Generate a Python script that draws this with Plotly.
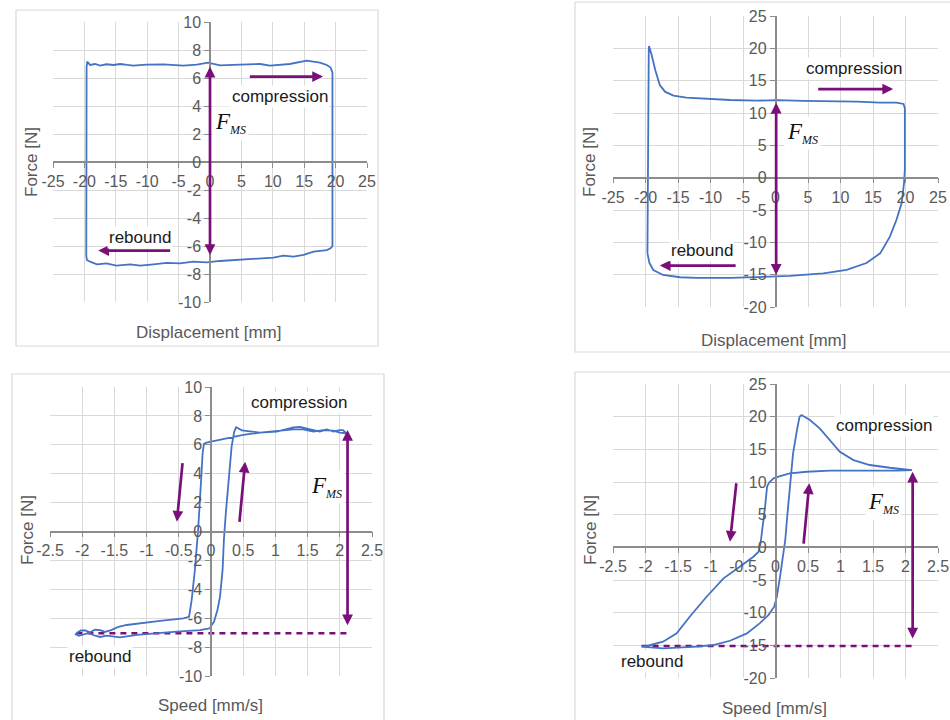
import plotly.graph_objects as go

W, H = 950, 720

# ---------------- data ----------------
# Panel 1: force vs displacement (low speed)
p1_disp = [-19.65, -19.54, -19.1, -18.3, -17.5, -16.5, -15.4, -14.3, -13.2, -12.2, -10.1, -7.4,
           -4.25, -2.1, -0.3, 1.6, 4.8, 8.0, 9.55, 12.7, 15.4, 17.5, 18.6, 19.2, 19.5,
           19.5, 19.2, 18.6, 16.5, 14.9, 13.3, 11.7, 10.1, 8.0, 5.8, 3.7, 1.6, -0.5, -2.65,
           -4.8, -6.9, -9.0, -11.1, -12.7, -14.9, -16.5, -18.0, -19.1, -19.6, -19.7, -19.65]
p1_force = [6.8, 7.17, 6.93, 7.0, 6.88, 6.98, 6.93, 7.0, 6.93, 6.88, 6.95, 6.98,
            6.88, 6.95, 7.1, 6.9, 6.95, 7.0, 6.88, 7.0, 7.24, 7.1, 6.93, 6.75, 6.4,
            -6.0, -6.17, -6.29, -6.4, -6.64, -6.76, -6.69, -6.83, -6.88, -6.93, -7.0, -7.07, -7.17, -7.12,
            -7.24, -7.2, -7.31, -7.4, -7.31, -7.4, -7.24, -7.31, -7.12, -7.0, -6.7, 6.8]

# Panel 2: force vs displacement (higher speed)
p2_disp = [-19.7, -19.65, -19.6, -19.5, -19.46, -19.05, -18.5, -17.8, -17.0, -15.7, -13.7, -10.6,
           -7.0, -2.9, 0.2, 4.3, 8.4, 12.5, 16.1, 18.6, 19.7, 19.9,
           19.9, 19.77, 19.4, 18.6, 17.6, 16.1, 14.0, 10.95, 7.35, 2.2, -0.85, -7.0, -12.1,
           -14.7, -17.3, -18.8, -19.4, -19.7]
p2_force = [-11.7, 0.0, 15.0, 19.5, 20.37, 18.97, 16.65, 14.33, 13.3, 12.68, 12.37, 12.17,
            12.01, 11.9, 12.0, 11.86, 11.86, 11.75, 11.6, 11.6, 11.4, 10.73,
            1.2, -0.87, -3.96, -6.54, -9.12, -11.7, -13.2, -14.27, -14.8, -15.2, -15.3, -15.5, -15.5,
            -15.4, -15.05, -14.27, -13.2, -11.7]

# Panel 3: force vs speed (low speed)
p3_speed = [-0.02, 0.047, 0.1, 0.14, 0.18, 0.2, 0.23, 0.27, 0.32, 0.36, 0.39, 0.48, 0.76, 1.02,
            1.28, 1.38, 1.54, 1.69, 1.8, 1.9, 2.0, 2.05, 2.1, 2.0, 1.9, 1.74, 1.59, 1.43, 1.28,
            1.02, 0.76, 0.5, 0.24, -0.07, -0.11, -0.13, -0.16, -0.2, -0.25, -0.3, -0.34, -0.43,
            -0.79, -1.15, -1.31, -1.45, -1.55, -1.65, -1.72, -1.8, -1.88, -1.95, -2.02, -2.08,
            -2.1, -2.05, -1.98, -1.9, -1.82, -1.72, -1.62, -1.5, -1.41, -1.15, -0.9, -0.53,
            -0.17, -0.02]
p3_force = [-6.7, -6.24, -5.43, -4.51, -2.66, -0.59, 1.26, 3.56, 5.87, 6.91, 7.21, 7.0, 6.84, 6.91,
            7.21, 7.24, 7.07, 6.91, 7.07, 6.91, 7.02, 7.02, 6.8, 6.84, 6.98, 7.02, 6.91, 7.07, 7.07,
            6.98, 6.84, 6.68, 6.45, 6.15, 6.06, 5.41, 3.1, 0.1, -2.66, -4.74, -5.9, -6.01,
            -6.19, -6.36, -6.47, -6.62, -6.82, -6.95, -6.82, -6.8, -6.98, -6.85, -6.85, -7.0,
            -7.12, -7.22, -7.12, -7.02, -7.18, -7.3, -7.2, -7.25, -7.32, -7.16, -7.05, -6.93,
            -6.82, -6.7]

# Panel 4: force vs speed (higher speed)
p4_speed = [-2.06, -1.73, -1.21, -0.96, -0.7, -0.44, -0.24, -0.11, -0.02, 0.02, 0.07, 0.11, 0.15,
            0.18, 0.22, 0.27, 0.33, 0.37, 0.4, 0.53, 0.68, 0.84, 0.99, 1.2, 1.45, 1.76, 1.97, 2.1,
            1.86, 1.35, 0.84, 0.48, 0.22, 0.07, -0.03, -0.1, -0.13, -0.16, -0.2, -0.23, -0.26,
            -0.34, -0.55, -0.8, -1.06, -1.32, -1.52, -1.73, -1.98, -2.06]
p4_force = [-15.2, -15.46, -15.2, -14.95, -14.3, -13.17, -11.6, -10.37, -9.09, -7.56, -4.5, -1.94, 1.12,
            4.68, 9.28, 14.39, 17.95, 19.99, 20.25, 19.49, 18.2, 16.42, 14.63, 13.36, 12.6, 12.18, 11.98, 11.83,
            11.73, 11.73, 11.73, 11.57, 11.32, 10.91, 10.56, 9.89, 9.28, 6.21, 3.15, 0.61, -0.67,
            -1.44, -2.97, -4.75, -7.56, -10.62, -13.17, -14.45, -15.1, -15.2]

# Rebound force reference levels (dashed lines) for the speed plots
p3_ref_speed = [-2.09, 2.12]
p3_ref_force = [-7.05, -7.05]
p4_ref_speed = [-2.06, 2.11]
p4_ref_force = [-15.1, -15.1]

# F_MS arrows: [x, y_bottom, y_top]
p1_fms = [0.0, -6.75, 6.8]
p2_fms = [0.1, -15.26, 11.6]
p3_fms = [2.12, -6.6, 7.02]
p4_fms = [2.11, -14.2, 11.57]

# tick values
disp_ticks = [-25, -20, -15, -10, -5, 0, 5, 10, 15, 20, 25]
speed_ticks = [-2.5, -2, -1.5, -1, -0.5, 0, 0.5, 1, 1.5, 2, 2.5]
force_ticks_10 = [-10, -8, -6, -4, -2, 0, 2, 4, 6, 8, 10]
force_ticks_25 = [-20, -15, -10, -5, 0, 5, 10, 15, 20, 25]

# ---------------- style ----------------
BLUE = "#4472c4"
PURPLE = "#7a0f7a"
GRID = "#d9d9d9"
AXIS = "#8c8c8c"
TXT = "#595959"
FONT = "Liberation Sans, Arial, sans-serif"
SERIF = "Liberation Serif, Times New Roman, serif"


def lab(v):
    return "%g" % v


panels = [
    dict(x=p1_disp, y=p1_force, xt=disp_ticks, yt=force_ticks_10, xr=[-25, 25], yr=[-10, 10],
         box=(53, 22, 367, 302), frame=(16, 10, 378, 346), xtitle="Displacement [mm]",
         xtpos=(208, 332), ytpos=(32, 162), ref=None, fms=p1_fms),
    dict(x=p2_disp, y=p2_force, xt=disp_ticks, yt=force_ticks_25, xr=[-25, 25], yr=[-20, 25],
         box=(613, 16, 938, 307), frame=(575, 2, 953, 352), xtitle="Displacement [mm]",
         xtpos=(773, 340), ytpos=(590, 162), ref=None, fms=p2_fms),
    dict(x=p3_speed, y=p3_force, xt=speed_ticks, yt=force_ticks_10, xr=[-2.5, 2.5], yr=[-10, 10],
         box=(50, 387, 372, 676), frame=(12, 374, 384, 725), xtitle="Speed [mm/s]",
         xtpos=(210, 705), ytpos=(27, 530), ref=(p3_ref_speed, p3_ref_force), fms=p3_fms),
    dict(x=p4_speed, y=p4_force, xt=speed_ticks, yt=force_ticks_25, xr=[-2.5, 2.5], yr=[-20, 25],
         box=(613, 384, 938, 678), frame=(575, 372, 953, 725), xtitle="Speed [mm/s]",
         xtpos=(774, 708), ytpos=(590, 530), ref=(p4_ref_speed, p4_ref_force), fms=p4_fms),
]

# text / arrow positions (data coords)
labels = [
    dict(comp=(11.1, 4.7), reb=(-11.2, -5.38), F=(3.3, 2.76),
         carrow=((6.1, 6.1), (18.0, 6.1)), rarrow=((-6.1, -6.33), (-17.8, -6.33))),
    dict(comp=(12.1, 16.9), reb=(-11.35, -11.3), F=(4.1, 6.96),
         carrow=((6.34, 13.7), (18.1, 13.7)), rarrow=((-5.9, -13.6), (-17.8, -13.6))),
    dict(comp=(1.37, 8.94), reb=(-1.72, -8.66), F=(1.8, 3.1),
         carrow=((0.44, 0.57), (0.53, 4.83)), rarrow=((-0.44, 4.83), (-0.53, 0.68))),
    dict(comp=(1.67, 18.7), reb=(-1.9, -17.4), F=(1.66, 6.73),
         carrow=((0.43, 0.35), (0.52, 9.8)), rarrow=((-0.6, 10.04), (-0.7, 0.86))),
]

fig = go.Figure()
layout = dict(template="none", width=W, height=H, margin=dict(l=0, r=0, t=0, b=0, pad=0),
              autosize=False, paper_bgcolor="white", plot_bgcolor="white", showlegend=False,
              font=dict(family=FONT, size=16, color=TXT))
annotations = []
shapes = []

for i, p in enumerate(panels, start=1):
    xn = "xaxis" if i == 1 else f"xaxis{i}"
    yn = "yaxis" if i == 1 else f"yaxis{i}"
    xr_ = "x" if i == 1 else f"x{i}"
    yr_ = "y" if i == 1 else f"y{i}"
    x0, y0, x1, y1 = p["box"]
    xd = [x0 / W, x1 / W]
    yd = [1 - y1 / H, 1 - y0 / H]
    fx = (0 - p["xr"][0]) / (p["xr"][1] - p["xr"][0])
    fy = (0 - p["yr"][0]) / (p["yr"][1] - p["yr"][0])
    xpos0 = xd[0] + fx * (xd[1] - xd[0])
    ypos0 = yd[0] + fy * (yd[1] - yd[0])
    common = dict(showgrid=True, gridcolor=GRID, gridwidth=1.3, zeroline=False, showline=True,
                  linecolor=AXIS, linewidth=1.5, ticks="outside", ticklen=5, tickcolor=AXIS,
                  tickwidth=1.3, tickfont=dict(size=16, color=TXT, family=FONT), fixedrange=True,
                  anchor="free", automargin=False)
    layout[xn] = dict(domain=xd, range=p["xr"], tickmode="array", tickvals=p["xt"],
                      ticktext=[lab(v) for v in p["xt"]], position=ypos0, **common)
    layout[yn] = dict(domain=yd, range=p["yr"], tickmode="array", tickvals=p["yt"],
                      ticktext=[lab(v) for v in p["yt"]], position=xpos0, **common)

    if p["ref"] is not None:
        fig.add_trace(go.Scatter(x=p["ref"][0], y=p["ref"][1], mode="lines", xaxis=xr_, yaxis=yr_,
                                 line=dict(color=PURPLE, width=2.5, dash="6px,5px"), hoverinfo="skip"))
    fig.add_trace(go.Scatter(x=p["x"], y=p["y"], mode="lines", xaxis=xr_, yaxis=yr_,
                             line=dict(color=BLUE, width=1.8)))

    fx0, fy0, fx1, fy1 = p["frame"]
    shapes.append(dict(type="rect", xref="paper", yref="paper", x0=fx0 / W, x1=fx1 / W,
                       y0=1 - fy1 / H, y1=1 - fy0 / H, line=dict(color=GRID, width=1.2),
                       fillcolor="rgba(0,0,0,0)", layer="below"))
    annotations.append(dict(x=p["xtpos"][0] / W, y=1 - p["xtpos"][1] / H, xref="paper", yref="paper",
                            xanchor="center", yanchor="middle",
                            text=p["xtitle"], showarrow=False, font=dict(size=17, color=TXT, family=FONT)))
    annotations.append(dict(x=p["ytpos"][0] / W, y=1 - p["ytpos"][1] / H, xref="paper", yref="paper",
                            xanchor="center", yanchor="middle",
                            text="Force [N]", textangle=-90, showarrow=False,
                            font=dict(size=17, color=TXT, family=FONT)))

    L = labels[i - 1]
    arrow_common = dict(xref=xr_, yref=yr_, axref=xr_, ayref=yr_, text="", showarrow=True,
                        arrowhead=2, arrowsize=0.8, arrowwidth=2.7, arrowcolor=PURPLE, standoff=0)
    fxv, fyb, fyt = p["fms"]
    annotations.append(dict(x=fxv, y=fyt, ax=fxv, ay=fyb, arrowside="end+start",
                            startarrowhead=2, startarrowsize=0.8, **arrow_common))
    (cx0, cy0), (cx1, cy1) = L["carrow"]
    annotations.append(dict(x=cx1, y=cy1, ax=cx0, ay=cy0, **arrow_common))
    (rx0, ry0), (rx1, ry1) = L["rarrow"]
    annotations.append(dict(x=rx1, y=ry1, ax=rx0, ay=ry0, **arrow_common))
    annotations.append(dict(x=L["comp"][0], y=L["comp"][1], xref=xr_, yref=yr_, text="compression",
                            xanchor="center", yanchor="middle",
                            showarrow=False, bgcolor="white", borderpad=1,
                            font=dict(size=17, color="#1a1a1a", family=FONT)))
    annotations.append(dict(x=L["reb"][0], y=L["reb"][1], xref=xr_, yref=yr_, text="rebound",
                            xanchor="center", yanchor="middle",
                            showarrow=False, bgcolor="white", borderpad=1,
                            font=dict(size=17, color="#1a1a1a", family=FONT)))
    annotations.append(dict(x=L["F"][0], y=L["F"][1], xref=xr_, yref=yr_,
                            xanchor="center", yanchor="middle",
                            text="<i>F</i><sub><span style='font-size:12px'><i>MS</i></span></sub>",
                            showarrow=False, bgcolor="white", borderpad=2,
                            font=dict(size=23, color="#111111", family=SERIF)))

layout["annotations"] = annotations
layout["shapes"] = shapes
fig.update_layout(**layout)
fig.write_html("out.html", config={"displayModeBar": False},
               post_script="document.body.style.margin='0px';document.body.style.padding='0px';"
                           "document.body.style.overflow='hidden';")
